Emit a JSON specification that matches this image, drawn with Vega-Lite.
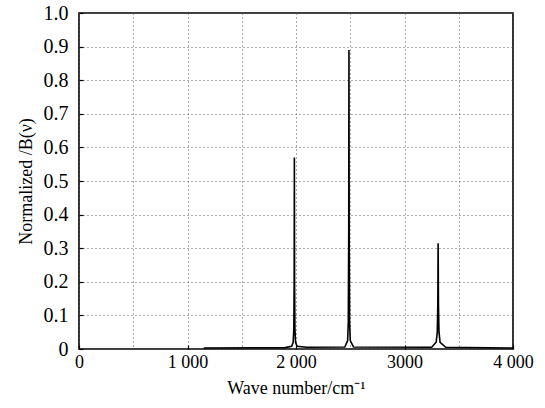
{
  "$schema": "https://vega.github.io/schema/vega-lite/v6.json",
  "width": 434,
  "height": 336,
  "autosize": {"type": "none"},
  "padding": {"left": 79, "top": 13, "right": 32, "bottom": 59},
  "background": "white",
  "config": {
    "view": {"stroke": "black", "strokeWidth": 1.6},
    "font": "Liberation Serif, Times New Roman, serif",
    "axis": {
      "labelFont": "Liberation Serif, Times New Roman, serif",
      "titleFont": "Liberation Serif, Times New Roman, serif",
      "labelFontSize": 18,
      "titleFontSize": 18,
      "titleFontWeight": "normal",
      "labelColor": "black",
      "titleColor": "black",
      "domain": false,
      "ticks": true,
      "tickSize": -4,
      "tickColor": "black",
      "tickWidth": 1.2,
      "grid": true,
      "gridColor": "#555",
      "gridDash": [1, 3],
      "gridWidth": 1
    }
  },
  "data": {
    "values": [
      {"x": 1150, "y": 0.003},
      {"x": 1900, "y": 0.004},
      {"x": 1960, "y": 0.008},
      {"x": 1974, "y": 0.02},
      {"x": 1980, "y": 0.06},
      {"x": 1983, "y": 0.2},
      {"x": 1985, "y": 0.57},
      {"x": 1987, "y": 0.2},
      {"x": 1990, "y": 0.06},
      {"x": 1996, "y": 0.02},
      {"x": 2010, "y": 0.008},
      {"x": 2100, "y": 0.005},
      {"x": 2450, "y": 0.006},
      {"x": 2476, "y": 0.025},
      {"x": 2482, "y": 0.08},
      {"x": 2486, "y": 0.35},
      {"x": 2488, "y": 0.89},
      {"x": 2490, "y": 0.35},
      {"x": 2494, "y": 0.08},
      {"x": 2500, "y": 0.025},
      {"x": 2530, "y": 0.006},
      {"x": 3250, "y": 0.005},
      {"x": 3292, "y": 0.02},
      {"x": 3302, "y": 0.05},
      {"x": 3307, "y": 0.13},
      {"x": 3310, "y": 0.315},
      {"x": 3313, "y": 0.13},
      {"x": 3318, "y": 0.05},
      {"x": 3328, "y": 0.02},
      {"x": 3380, "y": 0.005},
      {"x": 4000, "y": 0.003}
    ]
  },
  "mark": {"type": "line", "color": "black", "strokeWidth": 1.6, "clip": true},
  "encoding": {
    "x": {
      "field": "x",
      "type": "quantitative",
      "scale": {"domain": [0, 4000], "nice": false, "zero": false},
      "axis": {
        "title": "Wave number/cm⁻¹",
        "values": [0, 500, 1000, 1500, 2000, 2500, 3000, 3500, 4000],
        "labelExpr": "datum.value == 1000 ? '1 000' : datum.value == 2000 ? '2 000' : datum.value == 4000 ? '4 000' : datum.value == 3000 ? '3000' : datum.value == 0 ? '0' : ''",
        "tickOpacity": {"condition": {"test": "datum.value % 1000 == 0", "value": 1}, "value": 0},
        "labelPadding": 8,
        "titlePadding": 8,
        "labelFlush": false
      }
    },
    "y": {
      "field": "y",
      "type": "quantitative",
      "scale": {"domain": [0, 1], "nice": false},
      "axis": {
        "title": "Normalized /B(ν)",
        "values": [0, 0.1, 0.2, 0.3, 0.4, 0.5, 0.6, 0.7, 0.8, 0.9, 1.0],
        "labelExpr": "datum.value == 0 ? '0' : format(datum.value, '.1f')",
        "labelFontSize": 20,
        "labelPadding": 15,
        "titlePadding": 8,
        "labelFlush": false
      }
    }
  }
}
